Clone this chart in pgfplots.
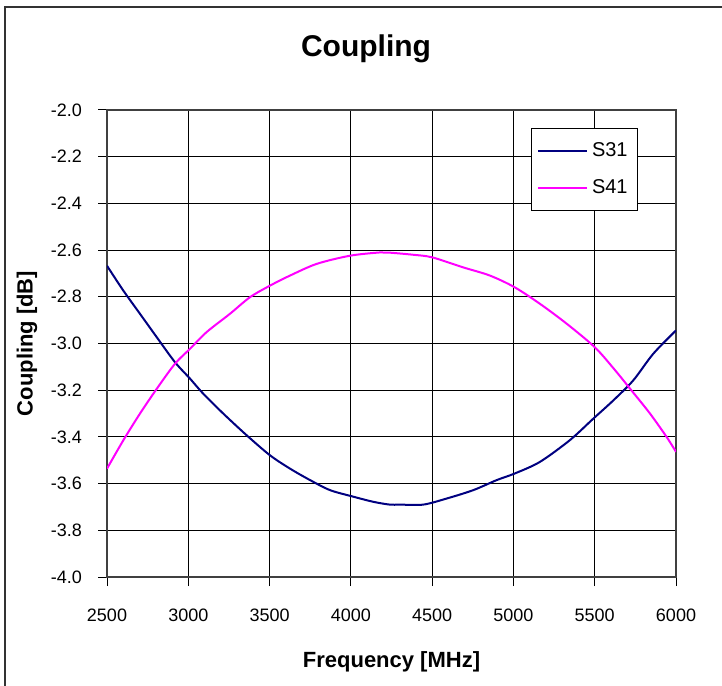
\documentclass[border=0pt]{standalone}
\usepackage{fontspec}
\setmainfont{Liberation Sans}
\usepackage{pgfplots}
\pgfplotsset{compat=1.18}
\definecolor{sNavy}{HTML}{000080}
\definecolor{sMag}{HTML}{FF00FF}

\begin{document}
\begin{tikzpicture}
\path[use as bounding box] (0,0) rectangle (361pt,342.5pt);
% outer chart frame (cut off at right and bottom in the reference)
\draw[black!80, line width=0.75pt] (2.5pt,-1pt) -- (2.5pt,339pt) -- (362pt,339pt);
\node[font=\fontsize{15}{18}\selectfont\bfseries] at (183pt,318pt) {Coupling};
\begin{axis}[
  at={(53.5pt,54pt)}, anchor=south west,
  width=284.5pt, height=233.5pt, scale only axis,
  xmin=2500, xmax=6000, ymin=-4, ymax=-2,
  xtick={2500,3000,...,6000},
  ytick={-4,-3.8,-3.6,-3.4,-3.2,-3,-2.8,-2.6,-2.4,-2.2,-2},
  xticklabel style={/pgf/number format/1000 sep={}, yshift=-8pt},
  yticklabel style={/pgf/number format/.cd, fixed, fixed zerofill, precision=1,
    /tikz/.cd, xshift=-4.5pt},
  /pgf/number format/assume math mode=true,
  grid=major, major grid style={black, line width=0.5pt},
  axis line style={black!75, line width=0.6pt},
  tick align=outside, tick pos=left, major tick length=4.5pt,
  tick style={black, line width=0.5pt},
  tick label style={font=\fontsize{9}{10}\selectfont},
  xlabel={Frequency [MHz]}, ylabel={Coupling [dB]},
  label style={font=\fontsize{11}{13}\selectfont\bfseries},
  xlabel style={at={(axis description cs:0.5,-0.182)}, anchor=center},
  ylabel style={at={(axis description cs:-0.1406,0.5)}, anchor=center},
  legend style={at={(axis description cs:0.745,0.961)}, anchor=north west,
    draw=black, line width=0.5pt, fill=white,
    font=\fontsize{10}{12}\selectfont, row sep=6pt,
    inner xsep=3pt, inner ysep=5pt, cells={anchor=west}},
  legend image code/.code={\draw[#1, line width=0.8pt] (0pt,0pt) -- (24.5pt,0pt);},
]
\addplot[sNavy, line width=1pt, smooth, tension=0.5] coordinates {
(2500,-2.667) (2600,-2.773) (2703,-2.873) (2806,-2.973) (2918,-3.080)
(3010,-3.150) (3092,-3.215) (3215,-3.300) (3359,-3.393) (3503,-3.479)
(3626,-3.536) (3749,-3.585) (3872,-3.628) (4015,-3.656) (4138,-3.678)
(4240,-3.690) (4302,-3.690) (4445,-3.690) (4589,-3.664) (4753,-3.628)
(4897,-3.585) (5007,-3.557) (5163,-3.507) (5347,-3.414) (5491,-3.322)
(5614,-3.244) (5737,-3.158) (5860,-3.044) (6000,-2.944)
};
\addplot[sMag, line width=1pt, smooth, tension=0.5] coordinates {
(2500,-3.536) (2600,-3.415) (2703,-3.300) (2806,-3.194) (2918,-3.087)
(3010,-3.023) (3113,-2.951) (3256,-2.873) (3379,-2.802) (3503,-2.752)
(3626,-2.709) (3790,-2.659) (3995,-2.624) (4179,-2.610) (4240,-2.611)
(4384,-2.620) (4500,-2.631) (4691,-2.674) (4855,-2.709) (5007,-2.759)
(5163,-2.830) (5327,-2.915) (5499,-3.015) (5614,-3.105) (5725,-3.200)
(5840,-3.300) (5942,-3.400) (6000,-3.464)
};
\legend{S31, S41}
\end{axis}
\end{tikzpicture}
\end{document}
